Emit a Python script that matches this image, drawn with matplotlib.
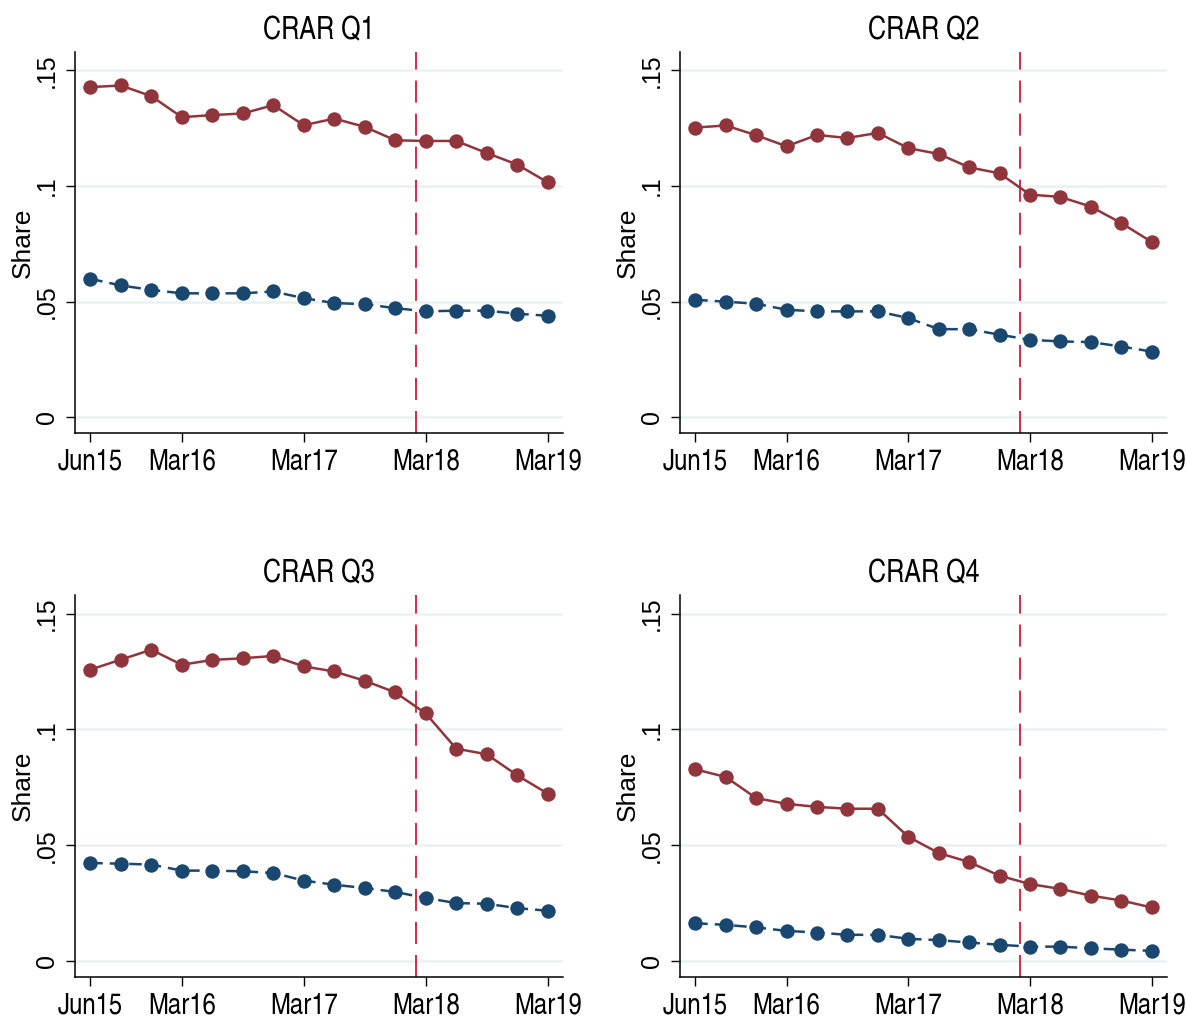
import matplotlib
matplotlib.use("Agg")
import matplotlib.pyplot as plt
import numpy as np

# Quarterly observations, Jun15 .. Mar19
quarters = ["Jun15", "Sep15", "Dec15", "Mar16", "Jun16", "Sep16", "Dec16", "Mar17",
            "Jun17", "Sep17", "Dec17", "Mar18", "Jun18", "Sep18", "Dec18", "Mar19"]
tick_quarters = ["Jun15", "Mar16", "Mar17", "Mar18", "Mar19"]
event_pos = 10.67  # position of the vertical marker line (between Dec17 and Mar18)

panel_titles = ["CRAR Q1", "CRAR Q2", "CRAR Q3", "CRAR Q4"]

# red (solid) series, one per panel
red_q1 = [0.1428, 0.1435, 0.1389, 0.1298, 0.1307, 0.1314, 0.1350, 0.1263,
          0.1292, 0.1256, 0.1198, 0.1195, 0.1195, 0.1143, 0.1093, 0.1016]
red_q2 = [0.1253, 0.1262, 0.1220, 0.1172, 0.1221, 0.1208, 0.1230, 0.1164,
          0.1139, 0.1081, 0.1055, 0.0963, 0.0953, 0.0911, 0.0840, 0.0758]
red_q3 = [0.1258, 0.1301, 0.1344, 0.1279, 0.1300, 0.1307, 0.1317, 0.1272,
          0.1250, 0.1210, 0.1160, 0.1069, 0.0917, 0.0893, 0.0802, 0.0723]
red_q4 = [0.0828, 0.0795, 0.0704, 0.0679, 0.0666, 0.0658, 0.0658, 0.0537,
          0.0467, 0.0428, 0.0369, 0.0333, 0.0312, 0.0283, 0.0262, 0.0232]

# blue (dashed) series, one per panel
blue_q1 = [0.0599, 0.0570, 0.0551, 0.0536, 0.0536, 0.0536, 0.0544, 0.0515,
           0.0494, 0.0489, 0.0472, 0.0458, 0.0461, 0.0461, 0.0448, 0.0439]
blue_q2 = [0.0508, 0.0500, 0.0491, 0.0465, 0.0458, 0.0458, 0.0458, 0.0429,
           0.0381, 0.0381, 0.0357, 0.0335, 0.0328, 0.0325, 0.0306, 0.0284]
blue_q3 = [0.0424, 0.0421, 0.0417, 0.0391, 0.0391, 0.0388, 0.0381, 0.0348,
           0.0330, 0.0316, 0.0299, 0.0273, 0.0251, 0.0248, 0.0229, 0.0218]
blue_q4 = [0.0164, 0.0157, 0.0146, 0.0131, 0.0124, 0.0114, 0.0114, 0.0097,
           0.0091, 0.0081, 0.0071, 0.0063, 0.0063, 0.0056, 0.0050, 0.0045]

y_ticks = [0, 0.05, 0.10, 0.15]
y_tick_labels = ["0", ".05", ".1", ".15"]

RED = "#90353b"
BLUE = "#1a476f"
VLINE = "#cf1a3c"
GRID = "#eaf1f3"

# Stata look: condensed Helvetica for titles / x labels, Arial-like for y axis
narrow = ["TeX Gyre Heros Cn", "Liberation Sans", "DejaVu Sans"]
regular = ["Liberation Sans", "DejaVu Sans"]

fig = plt.figure(figsize=(11.87, 10.19), dpi=100)

# axes boxes in figure fractions: left, bottom, width, height
boxes = [
    (0.0632, 0.5751, 0.4111, 0.3739),
    (0.5729, 0.5751, 0.4102, 0.3739),
    (0.0632, 0.0412, 0.4111, 0.3749),
    (0.5729, 0.0412, 0.4102, 0.3749),
]
reds = [red_q1, red_q2, red_q3, red_q4]
blues = [blue_q1, blue_q2, blue_q3, blue_q4]

x = np.arange(len(quarters))
xticks = [quarters.index(q) for q in tick_quarters]

for box, title, red, blue in zip(boxes, panel_titles, reds, blues):
    ax = fig.add_axes(box)

    for yv in y_ticks:
        ax.axhline(yv, color=GRID, lw=1.8, zorder=0)

    ax.axvline(event_pos, color=VLINE, lw=1.3, dashes=(12.2, 6.1), zorder=1)

    ax.plot(x, red, color=RED, lw=1.8, marker="o", markersize=10.4,
            markeredgewidth=0, zorder=3)
    ax.plot(x, blue, color=BLUE, lw=1.8, marker="o", markersize=10.4,
            markeredgewidth=0, dashes=(5.0, 2.8), zorder=3)

    ax.set_xlim(-0.5, 15.5)
    ax.set_ylim(-0.0068, 0.158)

    ax.set_xticks(xticks)
    ax.set_xticklabels(tick_quarters, family=narrow, fontsize=21)
    ax.set_yticks(y_ticks)
    ax.set_yticklabels(y_tick_labels, family=regular, fontsize=18,
                       rotation=90, va="center")

    ax.tick_params(axis="both", direction="out", length=6.5, width=1.0,
                   color="black")
    ax.tick_params(axis="x", pad=5)
    ax.tick_params(axis="y", pad=5)

    for side in ("top", "right"):
        ax.spines[side].set_visible(False)
    for side in ("left", "bottom"):
        ax.spines[side].set_linewidth(1.1)

    ax.set_ylabel("Share", family=regular, fontsize=19, labelpad=0)
    ax.set_title(title, family=narrow, fontsize=22, pad=9)

fig.savefig("out.png", dpi=100, facecolor="white")
